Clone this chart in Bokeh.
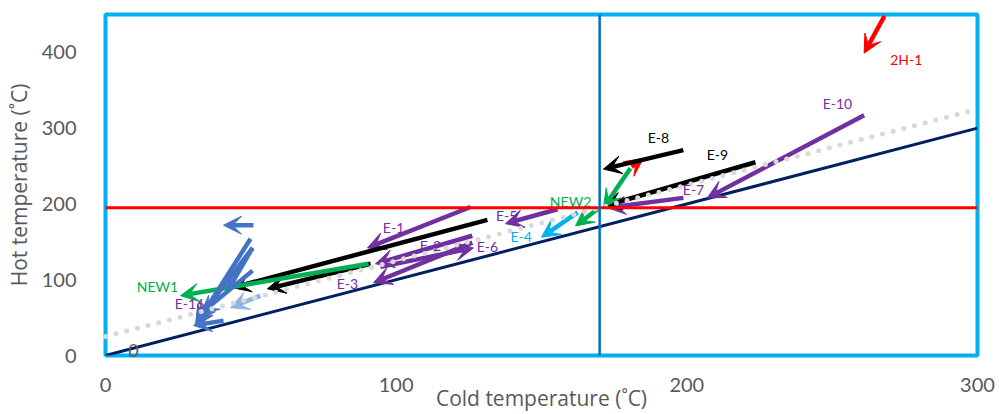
from bokeh.plotting import figure
from bokeh.models import Arrow, VeeHead, ColumnDataSource, Span, FixedTicker
from bokeh.embed import file_html
from bokeh.resources import INLINE
from bokeh.core.properties import value

# ---------------- data ----------------
x_ticks = [0, 100, 200, 300]
y_ticks = [0, 100, 200, 300, 400]

pinch_cold = 170          # vertical pinch line (cold side)
pinch_hot = 195           # horizontal pinch line (hot side)

diag_x = [0, 300]         # Th = Tc line
diag_y = [0, 300]
dtmin_x = [0, 300]        # Th = Tc + dTmin line
dtmin_y = [25, 325]

arrow_name = ["2H-1", "2H-1b", "E-10", "E-9", "E-8", "E-7", "NEW2", "NEW2b",
              "E-5", "E-4", "E-1", "E-2", "E-3", "E-6", "B-1", "B-2",
              "NEW1", "E-16", "H-1", "H-2", "H-3", "H-4", "H-5", "H-6", "H-7"]
arrow_x_start = [268, 181, 261, 223.6, 198.8, 198.8, 180.6, 169.2,
                 155.5, 162.4, 125.6, 126.2, 126.2, 94.6, 131.4, 91.2,
                 90.5, 40.6, 50.9, 49.9, 50.6, 50.6, 40.6, 53.3, 50.6]
arrow_y_start = [448, 249, 317, 255, 271, 208, 247, 193,
                 193, 189, 196, 158, 149, 117, 179, 121,
                 121, 96, 172, 154, 142, 112, 46, 79, 142]
arrow_x_end = [261, 185, 207, 171.3, 171.3, 172.7, 171.3, 161.7,
               137.6, 150, 90.1, 92.9, 92.2, 126.6, 43.7, 55.7,
               25.8, 31, 40.6, 31, 31.6, 32.7, 30.3, 43, 42]
arrow_y_end = [399, 260, 208, 197, 246, 195, 195, 171,
               174, 156, 142, 121, 96, 142, 89.5, 88,
               79, 39.5, 172, 39.5, 46, 55, 39.5, 63, 85.5]
arrow_group = ["red", "red", "purple", "black", "black", "purple", "green", "green",
               "purple", "cyan", "purple", "purple", "purple", "purple", "black", "black",
               "green", "purple", "blue", "blue", "blue", "blue", "blue", "lightblue", "blue"]

label_text = ["2H-1", "E-10", "E-8", "E-9", "E-7", "NEW2", "E-5", "E-4",
              "E-6", "E-2", "E-1", "E-3", "NEW1", "E-16"]
label_x = [275.5, 251.8, 190.2, 210.5, 202.3, 160, 138, 143,
           131.4, 111.8, 99.1, 83.2, 17.9, 28.9]
label_y = [390.8, 333, 288, 265.8, 219.7, 202.6, 185, 157,
           143.4, 145.5, 168.4, 94.7, 91, 68.4]
label_group = ["red", "purple", "black", "black", "purple", "green", "purple", "cyan",
               "purple", "purple", "purple", "purple", "green", "purple"]

origin_label_x = [9.6]
origin_label_y = [7]
origin_label_text = ["0"]

# ---------------- styles ----------------
colors = {"red": "#FF0000", "purple": "#7030A0", "black": "#000000", "green": "#00B050",
          "cyan": "#00B0F0", "blue": "#4472C4", "lightblue": "#8FB4E0"}
FONT = "Lato"
TFONT = "Open Sans"
GRAY = "#595959"

p = figure(width=999, height=414, x_range=(0, 300), y_range=(0, 450),
           output_backend="svg", toolbar_location=None,
           min_border_left=105, min_border_right=22, min_border_top=14, min_border_bottom=59)
p.background_fill_color = "white"
p.border_fill_color = "white"
p.xgrid.visible = False
p.ygrid.visible = False
p.outline_line_color = "#00B0F0"
p.outline_line_width = 4

for ax in (p.xaxis, p.yaxis):
    ax.major_tick_line_color = None
    ax.minor_tick_line_color = None
    ax.axis_line_color = None
    ax.major_label_text_font = FONT
    ax.major_label_text_font_size = "20px"
    ax.major_label_text_color = GRAY
    ax.axis_label_text_font = TFONT
    ax.axis_label_text_font_size = "21px"
    ax.axis_label_text_font_style = "normal"
    ax.axis_label_text_color = GRAY
p.xaxis.ticker = FixedTicker(ticks=x_ticks)
p.yaxis.ticker = FixedTicker(ticks=y_ticks)
p.xaxis.major_label_standoff = 16
p.yaxis.major_label_standoff = 23
p.yaxis.axis_label = "Hot temperature (˚C)"
p.yaxis.axis_label_standoff = 6
p.xaxis.axis_label = "Cold temperature (˚C)"
p.xaxis.axis_label_standoff = -11

# Th = Tc line
p.line(diag_x, diag_y, line_color="#002060", line_width=3)

# arrows
for g, c in colors.items():
    idx = [i for i, gg in enumerate(arrow_group) if gg == g]
    if not idx:
        continue
    src = ColumnDataSource(dict(
        x0=[arrow_x_start[i] for i in idx], y0=[arrow_y_start[i] for i in idx],
        x1=[arrow_x_end[i] for i in idx], y1=[arrow_y_end[i] for i in idx]))
    p.add_layout(Arrow(end=VeeHead(size=18, fill_color=c, line_color=c, line_width=1),
                       x_start="x0", y_start="y0", x_end="x1", y_end="y1",
                       line_color=c, line_width=4.5, source=src, level="glyph"))

# dTmin dotted line & pinch lines on top
dl = p.line(dtmin_x, dtmin_y, line_color="#D9D9D9", line_width=5,
            line_dash="0 11", line_cap="round")
dl.level = "overlay"
p.add_layout(Span(location=pinch_hot, dimension="width", line_color="#FF0000",
                  line_width=3, level="overlay"))
p.add_layout(Span(location=pinch_cold, dimension="height", line_color="#0070C0",
                  line_width=2.5, level="overlay"))

# labels
lsrc = ColumnDataSource(dict(x=label_x, y=label_y, text=label_text,
                             color=[colors[g] for g in label_group]))
tr = p.text(x="x", y="y", text="text", text_color="color", source=lsrc,
            text_font=value(FONT), text_font_size="14px",
            text_align="center", text_baseline="middle")
tr.level = "overlay"
tr0 = p.text(x=origin_label_x, y=origin_label_y, text=origin_label_text, text_color=GRAY,
             text_font=value(FONT), text_font_size="18px",
             text_align="center", text_baseline="middle")
tr0.level = "overlay"

open("out.html", "w").write(file_html(p, INLINE))
